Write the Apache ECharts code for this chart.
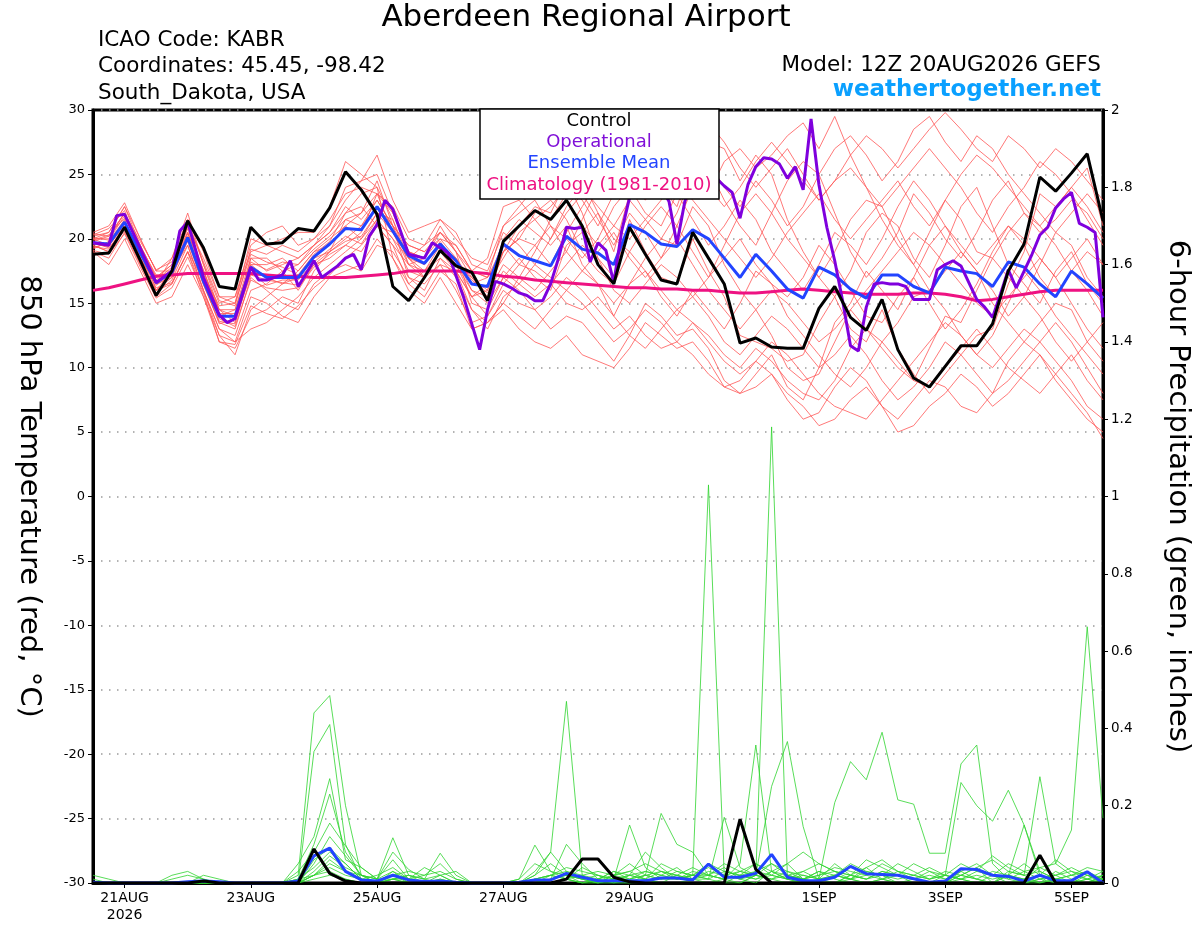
<!DOCTYPE html>
<html>
<head>
<meta charset="utf-8">
<title>Aberdeen Regional Airport</title>
<script src="https://cdn.jsdelivr.net/npm/echarts@6/dist/echarts.min.js"></script>
<style>
    html, body { margin: 0; padding: 0; background: #fff; }
    #main { width: 1200px; height: 927px; }
</style>
</head>
<body>
<div id="main"></div>
<script>
// hours after 12Z 20AUG2026, 6-hourly steps for the ensemble data
var stepHours = 6;
var tickHours = [12, 60, 108, 156, 204, 276, 324, 372];
var tickText = ['21AUG\n2026', '23AUG', '25AUG', '27AUG', '29AUG', '1SEP', '3SEP', '5SEP'];

// 850 hPa temperature, control run
var controlTemp = [
    18.8, 18.9, 20.9, 18.3, 15.6, 17.5, 21.4, 19.3, 16.3, 16.1, 20.9, 19.6, 19.7,
    20.8, 20.6, 22.4, 25.2, 23.8, 21.9, 16.3, 15.2, 17.0, 19.1, 17.9, 17.4, 15.2,
    19.8, 21.0, 22.2, 21.5, 23.0, 21.0, 18.0, 16.5, 20.9, 18.8, 16.8, 16.5, 20.5,
    18.5, 16.5, 11.9, 12.3, 11.6, 11.5, 11.5, 14.6, 16.3, 13.9, 12.9, 15.3, 11.4,
    9.2, 8.5, 10.1, 11.7, 11.7, 13.4, 17.5, 19.6, 24.8, 23.7, 25.1, 26.6, 21.4
];
// ensemble mean
var meanTemp = [
    19.7, 19.6, 21.3, 18.9, 16.6, 17.4, 20.1, 16.7, 14.0, 14.0, 17.8, 17.0, 17.0,
    17.0, 18.6, 19.6, 20.8, 20.7, 22.5, 20.6, 18.7, 18.1, 19.6, 18.3, 16.5, 16.3,
    19.6, 18.7, 18.3, 17.9, 20.2, 19.2, 18.9, 18.0, 21.1, 20.5, 19.6, 19.4, 20.7,
    20.0, 18.5, 17.0, 18.8, 17.5, 16.1, 15.4, 17.8, 17.2, 16.1, 15.4, 17.2, 17.2,
    16.3, 15.8, 17.8, 17.5, 17.3, 16.3, 18.2, 17.8, 16.5, 15.5, 17.5, 16.5, 15.4
];
// climatology 1981-2010
var climTemp = [
    16.0, 16.2, 16.5, 16.8, 17.1, 17.2, 17.3, 17.3, 17.3, 17.3, 17.3, 17.2, 17.1,
    17.1, 17.0, 17.0, 17.0, 17.1, 17.2, 17.3, 17.5, 17.5, 17.5, 17.5, 17.4, 17.3,
    17.1, 17.0, 16.8, 16.7, 16.6, 16.5, 16.4, 16.3, 16.2, 16.2, 16.1, 16.1, 16.0,
    16.0, 15.9, 15.8, 15.8, 15.9, 16.0, 16.1, 16.0, 15.9, 15.8, 15.7, 15.7, 15.7,
    15.8, 15.8, 15.7, 15.5, 15.2, 15.3, 15.5, 15.7, 15.9, 16.0, 16.0, 16.0, 16.0
];
// operational run (its own output hours)
var opHours = [
    0, 6, 9, 12, 24, 30, 33, 36, 42, 48, 51, 54, 60, 63, 66, 72, 75, 78, 84, 87,
    93, 96, 99, 102, 105, 108, 111, 114, 120, 126, 129, 135, 141, 147, 150, 153,
    156, 159, 162, 165, 168, 171, 174, 177, 180, 183, 186, 189, 192, 195, 198, 201,
    204, 207, 210, 213, 216, 219, 222, 225, 228, 231, 234, 237, 240, 243, 246, 249,
    252, 255, 258, 261, 264, 267, 270, 273, 276, 279, 282, 285, 288, 291, 294, 297,
    300, 303, 306, 309, 312, 315, 318, 321, 324, 327, 330, 333, 336, 339, 342, 345,
    348, 351, 354, 357, 360, 363, 366, 369, 372, 375, 378, 381, 384
];
var opTemp = [
    19.7, 19.5, 21.8, 21.9, 16.6, 17.5, 20.6, 21.3, 17.0, 14.1, 13.5, 13.8, 17.8, 16.8, 16.8, 17.2, 18.3, 16.3, 18.3, 17.0,
    17.9, 18.5, 18.8, 17.6, 20.2, 21.1, 23.0, 22.3, 18.8, 18.5, 19.7, 18.9, 15.4, 11.4, 14.5, 16.7,
    16.5, 16.2, 15.8, 15.6, 15.2, 15.2, 16.5, 18.5, 20.9, 20.8, 20.9, 18.2, 19.7, 19.1, 16.6, 20.6,
    23.2, 24.6, 25.2, 24.4, 24.0, 22.9, 19.6, 22.9, 24.5, 25.2, 25.1, 24.7, 24.1, 23.6, 21.6, 24.2,
    25.6, 26.3, 26.2, 25.8, 24.7, 25.6, 23.8, 29.3, 24.2, 20.9, 18.3, 15.2, 11.7, 11.3, 14.7, 16.5,
    16.6, 16.5, 16.5, 16.3, 15.3, 15.3, 15.3, 17.6, 18.0, 18.3, 17.9, 16.6, 15.3, 14.7, 13.9, 15.7,
    17.6, 16.2, 17.5, 18.8, 20.3, 20.9, 22.4, 23.1, 23.6, 21.2, 20.9, 20.5, 13.9
];

// ensemble members, 850 hPa temperature
var redMembers = [
    [20.2, 20.5, 22.5, 19.5, 16.0, 17.0, 21.5, 19.0, 15.5, 15.0, 20.0, 19.5, 20.0,
     20.5, 20.5, 22.5, 26.0, 25.0, 24.0, 18.5, 16.5, 17.5, 19.5, 18.0, 17.0, 15.5,
     19.0, 21.0, 22.5, 22.0, 24.5, 22.0, 18.5, 17.0, 21.5, 19.0, 17.0, 16.5, 20.0,
     17.5, 15.5, 12.5, 12.0, 11.5, 10.5, 11.0, 13.5, 15.5, 13.0, 12.0, 14.5, 11.5,
     9.5, 8.0, 9.5, 11.0, 12.5, 13.0, 16.5, 19.0, 23.5, 22.5, 24.0, 25.5, 21.0],
    [19.5, 19.0, 21.0, 18.0, 16.0, 17.5, 19.5, 16.0, 13.0, 12.5, 16.0, 16.5, 17.5,
     16.0, 18.0, 18.5, 19.5, 20.5, 23.5, 22.0, 19.0, 18.5, 20.5, 19.0, 15.0, 14.5,
     17.0, 18.5, 17.0, 16.0, 19.5, 20.5, 22.0, 19.0, 23.5, 25.0, 24.0, 22.5, 26.0,
     27.5, 27.0, 24.5, 26.5, 25.0, 21.5, 19.0, 17.0, 15.5, 17.5, 20.5, 22.0, 21.0,
     18.5, 17.0, 19.5, 22.5, 24.0, 21.0, 18.0, 16.5, 15.0, 17.5, 19.0, 16.5, 15.0],
    [20.0, 20.0, 22.0, 19.0, 17.0, 18.0, 20.5, 17.5, 14.5, 14.0, 18.0, 17.0, 16.5,
     17.5, 19.0, 20.0, 21.0, 20.0, 22.0, 21.5, 18.5, 17.0, 19.0, 17.5, 15.5, 16.0,
     20.0, 21.5, 20.5, 19.5, 21.0, 18.0, 16.5, 14.0, 16.5, 18.5, 20.0, 19.5, 22.5,
     21.0, 18.0, 16.0, 14.5, 12.5, 10.0, 9.0, 9.5, 12.0, 14.5, 13.0, 11.5, 10.0,
     9.0, 11.5, 14.0, 13.5, 16.0, 18.5, 17.0, 15.5, 14.0, 12.0, 10.5, 12.0, 13.5],
    [19.0, 18.5, 20.5, 18.0, 15.5, 16.5, 19.0, 15.5, 12.0, 11.5, 14.0, 14.5, 15.5,
     15.0, 17.5, 19.0, 21.5, 22.0, 24.5, 21.0, 17.0, 16.5, 18.0, 16.0, 13.5, 14.0,
     16.0, 15.0, 14.5, 13.0, 14.0, 13.5, 12.0, 10.5, 12.5, 15.0, 14.0, 12.5, 13.0,
     11.5, 9.0, 8.0, 9.5, 11.0, 8.5, 7.5, 10.0, 13.5, 15.0, 17.5, 16.0, 14.5,
     17.0, 19.5, 21.0, 19.0, 17.5, 16.0, 14.0, 15.5, 18.0, 20.5, 19.5, 17.0, 15.5],
    [20.5, 21.0, 22.8, 20.0, 17.5, 18.5, 22.0, 18.0, 15.0, 15.5, 19.5, 20.5, 21.0,
     19.5, 20.0, 21.0, 23.0, 24.5, 26.5, 23.0, 20.5, 21.0, 21.5, 20.5, 18.0, 17.5,
     20.5, 19.5, 18.0, 20.0, 22.0, 23.5, 21.5, 19.5, 22.0, 20.5, 18.5, 21.0, 24.0,
     23.5, 26.0, 27.0, 25.5, 26.5, 28.0, 29.0, 27.0, 29.5, 26.5, 24.0, 21.5, 19.5,
     18.0, 20.5, 23.0, 21.5, 19.0, 18.5, 20.5, 22.0, 21.0, 19.5, 17.5, 16.0, 14.0],
    [19.2, 19.8, 21.5, 18.5, 16.5, 17.0, 20.0, 16.5, 13.5, 13.0, 17.0, 16.0, 15.0,
     14.5, 16.5, 17.5, 18.0, 17.5, 19.5, 19.0, 17.0, 16.0, 18.5, 17.5, 14.5, 13.5,
     15.0, 17.0, 19.0, 21.5, 23.5, 24.5, 22.0, 20.0, 19.0, 17.5, 15.5, 14.0, 16.0,
     14.5, 13.0, 15.0, 17.5, 16.5, 14.0, 12.5, 11.0, 9.5, 8.5, 10.0, 12.0, 13.5,
     15.5, 16.0, 14.5, 12.5, 11.0, 12.5, 15.0, 17.5, 16.0, 14.0, 12.5, 11.0, 9.5],
    [20.0, 19.5, 21.0, 19.5, 17.0, 17.5, 20.5, 17.0, 14.5, 14.5, 18.5, 17.5, 18.0,
     18.5, 19.5, 20.5, 22.5, 21.5, 23.0, 21.0, 19.5, 19.0, 20.0, 19.5, 17.5, 18.5,
     22.5, 23.0, 21.5, 22.5, 24.0, 23.0, 21.0, 23.5, 25.5, 24.0, 26.5, 28.5, 27.0,
     25.5, 23.0, 21.0, 19.5, 22.0, 24.5, 26.0, 25.0, 22.0, 19.0, 17.0, 18.5, 20.5,
     23.5, 22.0, 20.0, 18.5, 20.5, 23.0, 24.5, 22.0, 20.5, 21.5, 23.0, 22.0, 20.0],
    [19.5, 19.0, 20.8, 18.5, 16.0, 16.5, 19.0, 16.0, 13.0, 12.0, 15.5, 15.0, 14.0,
     13.5, 15.5, 17.0, 17.5, 18.0, 20.0, 18.5, 16.0, 15.0, 17.0, 15.0, 13.0, 13.5,
     14.5, 13.0, 12.0, 11.5, 12.5, 11.0, 10.5, 10.0, 11.5, 13.5, 12.5, 11.5, 12.0,
     10.5, 8.5, 8.0, 8.5, 9.5, 7.5, 6.0, 6.5, 8.5, 10.0, 9.0, 7.0, 6.0,
     7.5, 9.0, 8.5, 7.0, 6.5, 8.0, 10.5, 12.0, 11.0, 9.0, 7.5, 6.0, 5.0],
    [19.8, 20.2, 22.0, 19.5, 17.0, 18.0, 21.0, 17.5, 14.0, 14.5, 18.0, 18.0, 18.5,
     17.5, 19.0, 19.5, 21.0, 22.0, 23.5, 22.5, 20.0, 19.5, 20.5, 19.0, 17.0, 16.0,
     19.0, 20.0, 22.0, 23.0, 21.5, 19.0, 17.5, 16.5, 19.0, 21.0, 22.5, 21.0, 19.0,
     17.0, 18.5, 20.0, 18.0, 16.5, 15.5, 17.0, 19.5, 18.0, 16.0, 14.0, 13.5, 15.5,
     17.0, 15.0, 13.0, 14.5, 16.5, 19.0, 21.0, 19.5, 17.0, 15.5, 17.5, 19.0, 18.0],
    [19.0, 18.0, 20.0, 17.5, 15.0, 15.5, 18.0, 15.5, 12.5, 12.0, 13.0, 13.5, 14.5,
     15.5, 17.0, 18.0, 19.0, 20.0, 21.5, 20.0, 17.5, 17.0, 19.0, 18.5, 16.0, 15.5,
     17.5, 16.5, 15.5, 16.5, 18.0, 19.5, 18.5, 16.0, 15.0, 16.5, 18.0, 17.0, 15.5,
     17.0, 19.5, 22.0, 23.5, 22.0, 20.0, 18.5, 17.0, 19.0, 21.5, 23.0, 22.5, 20.0,
     18.0, 16.0, 17.5, 19.0, 17.5, 15.0, 13.5, 12.0, 13.5, 15.0, 14.5, 12.0, 10.5],
    [20.0, 20.5, 22.5, 20.0, 17.5, 17.5, 21.0, 18.5, 15.5, 15.5, 19.0, 19.5, 19.0,
     18.5, 19.5, 21.0, 24.0, 24.5, 25.0, 22.0, 19.0, 18.0, 19.5, 18.5, 16.5, 17.0,
     21.0, 22.0, 23.0, 21.0, 19.0, 21.5, 24.0, 25.0, 23.0, 21.5, 20.0, 22.0, 25.0,
     26.0, 24.0, 22.5, 24.5, 23.0, 21.0, 22.5, 25.0, 27.0, 28.0, 26.5, 24.5, 26.0,
     28.5, 29.5, 27.5, 26.0, 28.0, 27.0, 25.0, 23.5, 22.0, 20.5, 22.0, 23.5, 22.0],
    [19.6, 19.4, 21.2, 18.8, 16.4, 17.2, 19.8, 16.4, 13.6, 13.4, 17.4, 16.4, 16.8,
     16.8, 18.2, 19.2, 20.2, 19.6, 21.5, 20.0, 18.5, 18.0, 19.8, 18.0, 16.0, 15.0,
     17.0, 16.0, 14.5, 15.5, 17.0, 16.0, 14.5, 13.0, 14.0, 12.5, 11.5, 12.0, 13.5,
     12.5, 11.0, 10.0, 11.5, 10.5, 9.0, 8.0, 7.5, 9.0, 11.5, 13.0, 12.0, 10.5,
     9.0, 8.5, 10.0, 11.5, 13.0, 11.5, 10.0, 9.0, 8.0, 9.5, 11.0, 9.0, 7.5],
    [20.3, 20.8, 22.2, 19.0, 16.5, 18.5, 21.5, 18.0, 14.5, 13.5, 18.5, 18.5, 17.5,
     18.0, 19.5, 20.5, 22.0, 23.5, 24.0, 21.5, 18.0, 18.5, 21.0, 19.0, 17.5, 17.0,
     19.5, 18.0, 19.5, 21.0, 20.0, 18.5, 20.0, 22.5, 24.0, 22.0, 21.0, 23.5, 21.5,
     19.5, 21.0, 23.0, 21.5, 19.0, 17.5, 16.0, 18.0, 20.5, 19.5, 18.0, 20.0, 22.5,
     24.5, 23.0, 21.0, 19.5, 18.0, 19.5, 21.0, 20.0, 18.5, 17.0, 18.5, 20.0, 18.0],
    [19.4, 19.2, 21.0, 18.2, 15.8, 16.8, 19.5, 16.0, 12.5, 11.0, 14.5, 15.5, 16.5,
     17.0, 18.5, 19.0, 20.0, 21.0, 22.5, 21.0, 18.5, 17.5, 18.5, 17.0, 14.5, 13.0,
     15.5, 16.5, 18.0, 17.0, 16.0, 17.5, 16.5, 15.0, 16.5, 17.5, 16.0, 14.5, 15.5,
     14.0, 12.0, 11.0, 12.5, 14.0, 13.0, 11.5, 10.0, 11.0, 12.5, 11.0, 9.0, 7.5,
     8.5, 10.0, 12.0, 11.0, 9.5, 8.0, 9.0, 10.5, 12.0, 13.5, 12.0, 10.0, 8.0],
    [20.1, 19.9, 21.8, 19.2, 16.8, 17.8, 20.8, 17.2, 14.8, 15.0, 18.8, 18.2, 17.8,
     17.2, 18.8, 19.8, 22.0, 22.5, 21.0, 19.5, 18.0, 17.0, 18.0, 17.5, 15.5, 16.5,
     18.5, 20.5, 21.5, 20.0, 22.5, 24.0, 22.5, 21.0, 20.0, 21.5, 23.0, 24.5, 23.0,
     21.5, 20.0, 18.5, 17.0, 18.5, 20.5, 22.0, 23.5, 21.5, 20.0, 21.5, 23.0, 24.5,
     22.5, 21.0, 23.0, 25.0, 26.5, 25.5, 24.0, 22.5, 21.0, 22.5, 24.0, 22.5, 20.5],
    [19.3, 19.7, 21.4, 18.6, 16.2, 16.6, 19.0, 16.8, 13.8, 13.2, 16.8, 16.2, 16.0,
     16.2, 17.8, 18.8, 19.5, 19.0, 21.0, 20.5, 19.0, 18.5, 20.0, 18.5, 16.8, 15.8,
     18.0, 17.0, 16.0, 17.5, 19.0, 17.5, 19.0, 20.5, 18.5, 17.0, 18.5, 20.0, 18.0,
     16.0, 14.5, 13.0, 14.5, 16.0, 15.0, 13.5, 12.0, 13.0, 14.5, 16.0, 17.5, 19.0,
     20.5, 19.5, 18.0, 16.5, 15.0, 14.0, 15.5, 17.0, 18.5, 17.0, 15.0, 13.0, 11.5],
    [19.9, 20.3, 21.6, 19.4, 17.2, 17.2, 20.4, 17.6, 14.2, 14.2, 18.2, 17.6, 18.2,
     18.0, 19.2, 20.2, 21.5, 21.0, 23.0, 21.0, 19.5, 19.0, 20.5, 19.5, 17.5, 17.0,
     19.0, 20.0, 19.5, 18.0, 20.5, 22.5, 24.5, 26.0, 24.5, 23.0, 25.0, 26.5, 25.5,
     24.0, 22.5, 24.0, 26.0, 27.5, 26.0, 24.5, 23.0, 24.5, 26.5, 28.0, 27.0, 25.5,
     27.0, 28.5, 29.8, 28.5, 27.0, 26.0, 28.0, 27.0, 25.5, 27.0, 26.0, 24.5, 23.0],
    [19.7, 19.3, 20.6, 18.4, 16.6, 17.6, 20.2, 16.6, 13.4, 13.8, 17.2, 16.8, 16.6,
     16.4, 18.0, 19.0, 19.8, 20.2, 22.0, 20.5, 18.0, 17.5, 19.0, 18.0, 15.5, 14.0,
     16.5, 18.0, 17.5, 16.5, 15.0, 14.5, 15.5, 14.0, 12.5, 11.5, 13.0, 14.5, 13.5,
     12.0, 10.5, 9.5, 10.5, 12.0, 11.0, 9.5, 8.0, 7.0, 6.5, 6.0, 7.5, 9.0,
     10.5, 12.0, 13.5, 12.5, 11.0, 10.0, 11.5, 13.0, 12.0, 10.5, 9.0, 7.0, 6.0],
    [20.4, 20.2, 22.0, 19.8, 17.6, 18.2, 21.2, 18.2, 15.2, 14.8, 19.2, 18.8, 19.5,
     19.0, 20.0, 21.5, 23.5, 24.0, 23.5, 20.5, 18.5, 19.5, 21.5, 20.0, 18.5, 18.0,
     21.0, 22.5, 24.0, 24.5, 23.0, 21.0, 19.5, 21.0, 23.0, 25.5, 27.0, 26.0, 28.0,
     29.0, 27.5, 25.5, 24.0, 25.5, 27.0, 25.0, 23.0, 24.5, 25.5, 24.0, 22.5, 24.0,
     25.5, 27.0, 25.5, 24.0, 22.0, 20.5, 22.5, 24.0, 26.0, 25.0, 23.5, 21.5, 19.5],
    [19.1, 18.8, 20.4, 17.8, 15.4, 16.2, 18.6, 15.8, 12.0, 11.8, 14.8, 14.2, 13.8,
     14.8, 16.2, 17.2, 18.5, 19.5, 21.0, 19.5, 16.5, 15.5, 17.5, 16.5, 13.0, 13.5,
     15.0, 14.0, 13.0, 14.5, 16.0, 15.0, 13.5, 12.0, 13.0, 14.5, 13.5, 12.0, 11.0,
     9.5, 8.5, 9.0, 10.5, 9.5, 8.0, 7.0, 5.5, 6.0, 7.5, 8.5, 7.0, 5.0,
     5.5, 7.0, 8.0, 9.5, 8.5, 7.0, 8.0, 9.5, 11.0, 9.5, 8.0, 6.5, 4.5]
];

// 6-hour precipitation (inches)
var controlPrecip = [
    0, 0, 0, 0, 0, 0, 0, 0.005, 0, 0, 0, 0, 0,
    0, 0.088, 0.025, 0.005, 0, 0, 0, 0, 0, 0, 0, 0, 0,
    0, 0, 0, 0, 0.01, 0.062, 0.062, 0.015, 0.003, 0, 0, 0, 0,
    0, 0, 0.165, 0.035, 0, 0, 0, 0, 0, 0, 0, 0, 0,
    0, 0, 0, 0, 0, 0, 0, 0, 0.072, 0, 0, 0, 0
];
var meanPrecip = [
    0.002, 0, 0, 0, 0, 0, 0.003, 0.005, 0.003, 0, 0, 0, 0,
    0.005, 0.07, 0.09, 0.03, 0.008, 0.005, 0.02, 0.008, 0.004, 0.005, 0.002, 0, 0,
    0, 0.002, 0.008, 0.008, 0.025, 0.015, 0.006, 0.006, 0.006, 0.006, 0.013, 0.013, 0.008,
    0.049, 0.015, 0.015, 0.025, 0.074, 0.015, 0.006, 0.006, 0.015, 0.043, 0.024, 0.022, 0.02,
    0.011, 0.002, 0.005, 0.037, 0.035, 0.02, 0.017, 0.005, 0.02, 0.006, 0.006, 0.029, 0
];
var greenMembers = [
    [0.02, 0.01, 0, 0, 0, 0, 0, 0, 0, 0, 0, 0, 0,
     0.02, 0.44, 0.485, 0.2, 0.02, 0, 0.03, 0, 0, 0.01, 0, 0, 0,
     0, 0, 0.01, 0.02, 0.01, 0, 0, 0, 0.02, 0.01, 0, 0, 0.01,
     0, 0, 0.02, 0.05, 0.03, 0.01, 0, 0, 0.02, 0.01, 0, 0.01, 0.02,
     0, 0, 0, 0.03, 0.01, 0, 0, 0, 0.01, 0, 0, 0.02, 0],
    [0.01, 0, 0, 0, 0, 0.02, 0.03, 0.01, 0, 0, 0, 0, 0,
     0, 0.34, 0.41, 0.1, 0.01, 0, 0.01, 0.01, 0, 0, 0, 0, 0,
     0, 0, 0.02, 0.08, 0.47, 0.02, 0, 0, 0, 0.01, 0.03, 0.02, 0,
     0, 0.01, 0, 0.02, 0.01, 0, 0.01, 0.03, 0.01, 0, 0, 0, 0,
     0, 0, 0, 0.02, 0.04, 0, 0, 0.01, 0.02, 0, 0, 0.01, 0],
    [0, 0, 0, 0, 0, 0, 0, 0, 0, 0, 0, 0, 0,
     0.05, 0.12, 0.27, 0.06, 0.04, 0.01, 0.117, 0.02, 0, 0, 0, 0, 0,
     0, 0, 0, 0.01, 0.1, 0.05, 0.01, 0, 0, 0, 0.02, 0.01, 0.02,
     1.03, 0.02, 0.01, 0, 0.03, 0.05, 0.01, 0, 0, 0.02, 0.04, 0.01, 0,
     0, 0, 0, 0.01, 0, 0.02, 0, 0, 0, 0.01, 0, 0, 0],
    [0, 0, 0, 0, 0, 0, 0, 0, 0, 0, 0, 0, 0,
     0.01, 0.1, 0.23, 0.08, 0.02, 0.01, 0.08, 0.035, 0.01, 0.077, 0.02, 0, 0,
     0, 0, 0.01, 0.02, 0.01, 0, 0, 0.01, 0.15, 0.04, 0.01, 0.03, 0.02,
     0.01, 0, 0, 0.02, 1.18, 0.02, 0.01, 0, 0, 0.01, 0.03, 0.02, 0,
     0.01, 0, 0, 0, 0, 0, 0.02, 0.01, 0, 0.03, 0.01, 0, 0.02],
    [0, 0, 0, 0, 0, 0, 0, 0, 0, 0, 0, 0, 0,
     0.03, 0.08, 0.155, 0.096, 0.04, 0.01, 0.06, 0.01, 0.02, 0.03, 0.01, 0, 0,
     0, 0.01, 0.098, 0.03, 0.02, 0.01, 0, 0.01, 0, 0.02, 0.18, 0.1, 0.08,
     0.02, 0.01, 0.05, 0.357, 0.03, 0.01, 0, 0.01, 0.02, 0.01, 0, 0.01, 0,
     0, 0, 0, 0.02, 0.01, 0, 0.03, 0.02, 0, 0.01, 0, 0, 0.01],
    [0, 0, 0, 0, 0, 0.01, 0.02, 0.01, 0, 0, 0, 0, 0,
     0, 0.05, 0.12, 0.07, 0.02, 0, 0.02, 0.03, 0.02, 0.05, 0.01, 0, 0,
     0, 0, 0.03, 0.08, 0.03, 0.01, 0, 0.02, 0.03, 0.01, 0, 0.02, 0.01,
     0.01, 0.17, 0.04, 0.02, 0.25, 0.366, 0.146, 0.01, 0, 0.02, 0.01, 0.03, 0.02,
     0.01, 0, 0.02, 0.01, 0, 0, 0.02, 0.15, 0.03, 0.01, 0, 0, 0.02],
    [0, 0, 0, 0, 0, 0, 0, 0, 0, 0, 0, 0, 0,
     0, 0.06, 0.09, 0.05, 0.01, 0, 0.01, 0, 0, 0.02, 0.03, 0, 0,
     0, 0.01, 0.05, 0.03, 0.01, 0, 0.01, 0.03, 0.02, 0.08, 0.04, 0.01, 0.02,
     0.01, 0.03, 0.02, 0.01, 0.02, 0.01, 0.02, 0.01, 0.208, 0.314, 0.267, 0.39, 0.215,
     0.204, 0.077, 0.077, 0.308, 0.357, 0.05, 0.01, 0, 0.01, 0.02, 0, 0.01, 0],
    [0, 0, 0, 0, 0, 0, 0, 0, 0, 0, 0, 0, 0,
     0, 0.03, 0.07, 0.04, 0.02, 0.01, 0.03, 0.01, 0.04, 0.02, 0, 0, 0,
     0, 0, 0.02, 0.05, 0.02, 0.01, 0.02, 0.01, 0.02, 0.03, 0.02, 0.04, 0.01,
     0.02, 0.01, 0.03, 0.02, 0.05, 0.03, 0.01, 0.02, 0.04, 0.03, 0.02, 0.05, 0.03,
     0.02, 0.01, 0.02, 0.26, 0.2, 0.16, 0.24, 0.15, 0.02, 0.01, 0.02, 0.03, 0.01],
    [0, 0, 0, 0, 0, 0, 0, 0, 0, 0, 0, 0, 0,
     0.01, 0.02, 0.05, 0.03, 0.01, 0, 0.02, 0, 0, 0.01, 0, 0, 0,
     0, 0, 0, 0.02, 0.03, 0.02, 0.01, 0.02, 0.05, 0.02, 0.03, 0.02, 0.01,
     0.03, 0.02, 0.01, 0.03, 0.05, 0.02, 0.01, 0.03, 0.02, 0.01, 0.04, 0.06, 0.03,
     0.01, 0.02, 0.01, 0.03, 0.05, 0.02, 0.01, 0.03, 0.04, 0.05, 0.137, 0.663, 0.168],
    [0, 0, 0, 0, 0, 0, 0, 0, 0, 0, 0, 0, 0,
     0, 0.02, 0.04, 0.02, 0.01, 0, 0.01, 0, 0, 0, 0, 0, 0,
     0, 0, 0, 0.01, 0.02, 0.01, 0, 0.02, 0.03, 0.05, 0.03, 0.01, 0.02,
     0.04, 0.02, 0.03, 0.05, 0.02, 0.01, 0.03, 0.05, 0.03, 0.02, 0.01, 0.03, 0.02,
     0.05, 0.03, 0.01, 0.02, 0.04, 0.06, 0.03, 0.02, 0.275, 0.05, 0.02, 0.01, 0.03],
    [0, 0, 0, 0, 0, 0, 0, 0, 0, 0, 0, 0, 0,
     0, 0.02, 0.03, 0.01, 0, 0, 0.01, 0.02, 0.01, 0, 0, 0, 0,
     0, 0, 0.01, 0.02, 0.04, 0.03, 0.02, 0.01, 0.02, 0.01, 0.05, 0.03, 0.02,
     0.02, 0.05, 0.03, 0.02, 0.01, 0.03, 0.02, 0.01, 0.02, 0.05, 0.03, 0.02, 0.05,
     0.03, 0.01, 0.02, 0.05, 0.03, 0.02, 0.05, 0.03, 0.01, 0.02, 0.04, 0.02, 0.01],
    [0, 0, 0, 0, 0, 0, 0, 0, 0, 0, 0, 0, 0,
     0, 0.01, 0.02, 0.01, 0, 0, 0, 0, 0, 0, 0, 0, 0,
     0, 0, 0, 0, 0.01, 0.02, 0.03, 0.02, 0.01, 0.03, 0.02, 0.01, 0.03,
     0.02, 0.01, 0.02, 0.03, 0.02, 0.05, 0.08, 0.05, 0.03, 0.02, 0.06, 0.04, 0.02,
     0.01, 0.03, 0.02, 0.01, 0.03, 0.07, 0.04, 0.02, 0.03, 0.01, 0.02, 0.04, 0.03],
    [0, 0, 0, 0, 0, 0, 0, 0.02, 0.01, 0, 0, 0, 0,
     0.01, 0.04, 0.08, 0.05, 0.01, 0.02, 0.04, 0.01, 0, 0, 0, 0, 0,
     0, 0, 0, 0.01, 0.02, 0, 0.01, 0.03, 0.01, 0.02, 0.01, 0.02, 0.04,
     0.02, 0.04, 0.01, 0.02, 0.01, 0.02, 0.03, 0.01, 0.05, 0.02, 0.01, 0.02, 0.01,
     0.02, 0.04, 0.02, 0.01, 0.02, 0.01, 0.02, 0.05, 0.02, 0.06, 0.03, 0.01, 0.02],
    [0, 0, 0, 0, 0, 0, 0, 0, 0, 0, 0, 0, 0,
     0, 0.02, 0.06, 0.03, 0.02, 0.01, 0.01, 0.02, 0.01, 0.02, 0, 0, 0,
     0, 0, 0.01, 0, 0.01, 0.04, 0.02, 0, 0.01, 0.02, 0.01, 0.01, 0.02,
     0.05, 0.03, 0.02, 0.01, 0.03, 0.02, 0.01, 0.02, 0.03, 0.01, 0.02, 0.01, 0.03,
     0.02, 0.01, 0.03, 0.02, 0.01, 0.03, 0.02, 0.01, 0.04, 0.02, 0.03, 0.02, 0.01]
];

var fontName = 'DejaVu Sans, Liberation Sans, sans-serif';

function toPairs(values) {
    return values.map(function (v, i) { return [i * stepHours, v]; });
}

var myChart = echarts.init(document.getElementById('main'));

var seriesList = [];
greenMembers.forEach(function (m) {
    seriesList.push({
        type: 'line', yAxisIndex: 1, data: toPairs(m), symbol: 'none', silent: true, z: 2,
        lineStyle: { color: '#2fd42f', width: 0.8 }
    });
});
redMembers.forEach(function (m) {
    seriesList.push({
        type: 'line', yAxisIndex: 0, data: toPairs(m), symbol: 'none', silent: true, z: 2,
        lineStyle: { color: '#ff5555', width: 0.8 }
    });
});
seriesList.push({
    name: 'Climatology (1981-2010)', type: 'line', yAxisIndex: 0, data: toPairs(climTemp),
    symbol: 'none', silent: true, z: 3, lineStyle: { color: '#ee1282', width: 3 }
});
seriesList.push({
    name: 'Ensemble Mean', type: 'line', yAxisIndex: 1, data: toPairs(meanPrecip),
    symbol: 'none', silent: true, z: 4, lineStyle: { color: '#2244ff', width: 3 }
});
seriesList.push({
    name: 'Ensemble Mean', type: 'line', yAxisIndex: 0, data: toPairs(meanTemp),
    symbol: 'none', silent: true, z: 4, lineStyle: { color: '#2244ff', width: 3 }
});
seriesList.push({
    name: 'Operational', type: 'line', yAxisIndex: 0,
    data: opHours.map(function (h, k) { return [h, opTemp[k]]; }),
    symbol: 'none', silent: true, z: 5, lineStyle: { color: '#7f00dd', width: 3 }
});
seriesList.push({
    name: 'Control', type: 'line', yAxisIndex: 1, data: toPairs(controlPrecip),
    symbol: 'none', silent: true, z: 6, lineStyle: { color: '#000', width: 3 }
});
seriesList.push({
    name: 'Control', type: 'line', yAxisIndex: 0, data: toPairs(controlTemp),
    symbol: 'none', silent: true, z: 6, lineStyle: { color: '#000', width: 3 }
});

function label(text, x, y, size, extra) {
    var style = {
        text: text, x: x, y: y, fill: '#000',
        font: size + 'px ' + fontName,
        textAlign: 'left', textVerticalAlign: 'middle'
    };
    for (var k in extra) { style[k] = extra[k]; }
    return { type: 'text', z: 101, style: style };
}

var option = {
    animation: false,
    textStyle: { fontFamily: fontName },
    grid: {
        left: 93, right: 92, top: 110, bottom: 44,
        show: true, borderColor: '#000', borderWidth: 3, backgroundColor: '#fff'
    },
    xAxis: {
        type: 'value', min: 0, max: 384,
        splitLine: { show: false },
        axisLine: { show: true, onZero: false, lineStyle: { color: '#000', width: 3 } },
        axisTick: { show: true, length: 5, customValues: tickHours, lineStyle: { color: '#000' } },
        axisLabel: {
            customValues: tickHours, color: '#000', fontSize: 14, lineHeight: 17, margin: 7,
            formatter: function (v) {
                var k = tickHours.indexOf(v);
                return k >= 0 ? tickText[k] : '';
            }
        }
    },
    yAxis: [{
        type: 'value', min: -30, max: 30, interval: 5, position: 'left',
        name: '850 hPa Temperature (red, \u00B0C)', nameLocation: 'middle',
        nameRotate: -90, nameGap: 50,
        nameTextStyle: { fontSize: 29, color: '#000' },
        axisLine: { show: true, lineStyle: { color: '#000', width: 3 } },
        axisTick: { show: true, length: 5, lineStyle: { color: '#000' } },
        axisLabel: { color: '#000', fontSize: 13, margin: 8 },
        splitLine: { show: true, lineStyle: { color: '#9a9a9a', width: 1.5, type: [1.5, 6.5] } }
    }, {
        type: 'value', min: 0, max: 2, interval: 0.2, position: 'right',
        name: '6-hour Precipitation (green, inches)', nameLocation: 'middle',
        nameRotate: -90, nameGap: 60,
        nameTextStyle: { fontSize: 29, color: '#000' },
        axisLine: { show: true, lineStyle: { color: '#000', width: 3 } },
        axisTick: { show: true, length: 5, lineStyle: { color: '#000' } },
        axisLabel: { color: '#000', fontSize: 13.5, margin: 8 },
        splitLine: { show: false }
    }],
    graphic: [
        label('Aberdeen Regional Airport', 586, 18, 31, { textAlign: 'center' }),
        label('ICAO Code: KABR', 98, 40, 21.5),
        label('Coordinates: 45.45, -98.42', 98, 66, 21.5),
        label('South_Dakota, USA', 98, 93, 21.5),
        label('Model: 12Z 20AUG2026 GEFS', 1101, 65, 21.5, { textAlign: 'right' }),
        label('weathertogether.net', 1101, 90, 23, {
            textAlign: 'right', fill: '#0aa0ff', font: 'bold 23px ' + fontName
        }),
        {
            type: 'rect', z: 100,
            shape: { x: 480, y: 109, width: 239, height: 90 },
            style: { fill: '#fff', stroke: '#000', lineWidth: 1.5 }
        },
        label('Control', 599, 121, 18, { textAlign: 'center' }),
        label('Operational', 599, 142, 18, { textAlign: 'center', fill: '#8010d8' }),
        label('Ensemble Mean', 599, 163, 18, { textAlign: 'center', fill: '#2244ff' }),
        label('Climatology (1981-2010)', 599, 185, 18, { textAlign: 'center', fill: '#ee1282' })
    ],
    series: seriesList
};

myChart.setOption(option);
</script>
</body>
</html>
